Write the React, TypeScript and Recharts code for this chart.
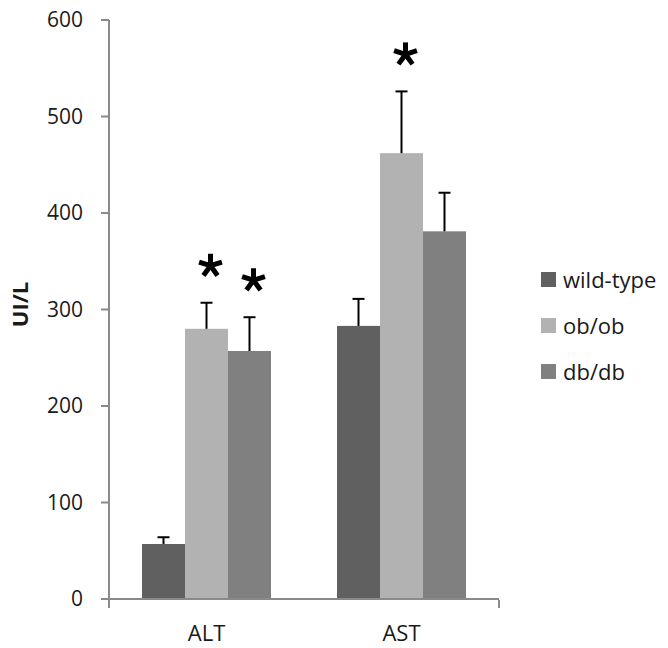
import { BarChart, Bar, XAxis, YAxis, Legend, Label } from 'recharts';

// enzyme categories on the x axis
const categories = ['ALT', 'AST'];

// means (UI/L) per genotype
const wildType = [57, 283];
const obOb = [280, 462];
const dbDb = [257, 381];

// upper error (SD) per genotype
const wildTypeErr = [7, 28];
const obObErr = [27, 64];
const dbDbErr = [35, 40];

// significance markers (*)
const wildTypeSig = [false, false];
const obObSig = [true, true];
const dbDbSig = [true, false];

const seriesNames = ['wild-type', 'ob/ob', 'db/db'];
const yTicks = [0, 100, 200, 300, 400, 500, 600];
const edgeTicks = [0, 1, 2];

const data = categories.map((name, i) => ({
  name,
  wt: wildType[i],
  wtErr: wildTypeErr[i],
  wtSig: wildTypeSig[i],
  ob: obOb[i],
  obErr: obObErr[i],
  obSig: obObSig[i],
  db: dbDb[i],
  dbErr: dbDbErr[i],
  dbSig: dbDbSig[i],
}));

const FONT = '"Open Sans", sans-serif';
const AXIS = '#8a8a8a';

const Asterisk = ({ cx, cy }: { cx: number; cy: number }) => {
  const r = 12;
  const angles = [-90, -18, 54, 126, 198];
  return (
    <g>
      {angles.map((a) => {
        const rad = (a * Math.PI) / 180;
        return (
          <line
            key={a}
            x1={cx}
            y1={cy}
            x2={cx + r * Math.cos(rad)}
            y2={cy + r * Math.sin(rad)}
            stroke="#000"
            strokeWidth={5}
          />
        );
      })}
    </g>
  );
};

// bar rect + upward error whisker + optional star
const makeShape = (valueKey: string, errKey: string, sigKey: string) => (props: any) => {
  const { x, y, width, height, fill, payload } = props;
  const value = payload[valueKey];
  const perUnit = value ? height / value : 0;
  const errTop = y - payload[errKey] * perUnit;
  const cx = x + width / 2;
  return (
    <g>
      <rect x={x} y={y} width={width} height={height} fill={fill} />
      <line x1={cx} y1={y} x2={cx} y2={errTop} stroke="#000" strokeWidth={2} />
      <line x1={cx - 6} y1={errTop} x2={cx + 6} y2={errTop} stroke="#000" strokeWidth={2} />
      {payload[sigKey] && <Asterisk cx={cx + 4} cy={errTop - 37} />}
    </g>
  );
};

const renderLegend = (props: any) => {
  const items = [...(props.payload || [])].sort(
    (a: any, b: any) => seriesNames.indexOf(a.value) - seriesNames.indexOf(b.value)
  );
  return (
    <div style={{ fontFamily: FONT, fontSize: 22, color: '#1a1a1a', whiteSpace: 'nowrap' }}>
      {items.map((item: any) => (
        <div key={item.value} style={{ display: 'flex', alignItems: 'center', height: 46 }}>
          <span style={{ width: 15, height: 15, background: item.color, marginRight: 7 }} />
          <span>{item.value}</span>
        </div>
      ))}
    </div>
  );
};

export default function App() {
  return (
    <div style={{ position: 'absolute', left: 0, top: 0, background: '#fff' }}>
      <BarChart
        width={668}
        height={648}
        data={data}
        margin={{ top: 20, right: 169, bottom: 47, left: 0 }}
        barCategoryGap={33}
        barGap={0}
        style={{ fontFamily: FONT }}
      >
        <XAxis
          dataKey="name"
          height={1}
          axisLine={{ stroke: AXIS, strokeWidth: 2 }}
          tickLine={false}
          tickSize={6}
          tickMargin={20}
          tick={{ fontSize: 22, fill: '#1a1a1a', fontFamily: FONT }}
        />
        <XAxis
          xAxisId="edge"
          type="number"
          domain={[0, 2]}
          ticks={edgeTicks}
          height={1}
          axisLine={false}
          tickLine={{ stroke: AXIS, strokeWidth: 2 }}
          tickSize={8}
          tickFormatter={() => ''}
        />
        <YAxis
          domain={[0, 600]}
          ticks={yTicks}
          width={109}
          axisLine={{ stroke: AXIS, strokeWidth: 2 }}
          tickLine={{ stroke: AXIS, strokeWidth: 2 }}
          tickSize={8}
          tickMargin={18}
          tick={{ fontSize: 21, fill: '#1a1a1a', fontFamily: FONT }}
        >
          <Label
            content={(p: any) => {
              const vb = p.viewBox || {};
              const cy = (vb.y ?? 0) + (vb.height ?? 0) / 2 - 5;
              return (
                <text
                  x={19}
                  y={cy}
                  transform={`rotate(-90, 19, ${cy})`}
                  textAnchor="middle"
                  dominantBaseline="central"
                  fontSize={22}
                  fontWeight="bold"
                  fontFamily={FONT}
                  fill="#1a1a1a"
                >
                  UI/L
                </text>
              );
            }}
          />
        </YAxis>
        <Legend
          layout="vertical"
          align="center"
          verticalAlign="middle"
          content={renderLegend}
          wrapperStyle={{ left: 541, top: 256, width: 'auto' }}
        />
        <Bar dataKey="wt" name="wild-type" fill="#606060" isAnimationActive={false} shape={makeShape('wt', 'wtErr', 'wtSig')} />
        <Bar dataKey="ob" name="ob/ob" fill="#b2b2b2" isAnimationActive={false} shape={makeShape('ob', 'obErr', 'obSig')} />
        <Bar dataKey="db" name="db/db" fill="#808080" isAnimationActive={false} shape={makeShape('db', 'dbErr', 'dbSig')} />
      </BarChart>
    </div>
  );
}
